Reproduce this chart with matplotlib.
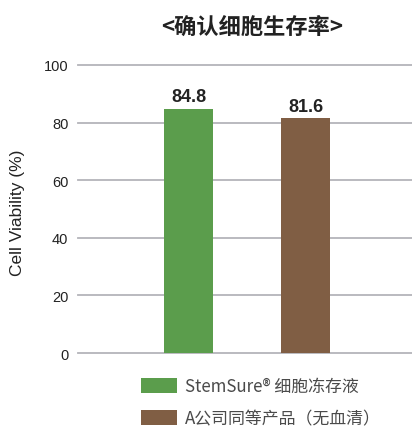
import matplotlib.pyplot as plt

# %% Data
products = ["StemSure® 细胞冻存液", "A公司同等产品（无血清）"]
viability = [84.8, 81.6]
bar_colors = ["#5b9d4c", "#805e44"]
y_ticks = [0, 20, 40, 60, 80, 100]

plt.rcParams['font.family'] = ['Liberation Sans', 'Noto Sans CJK SC', 'DejaVu Sans']

# %% Figure
fig = plt.figure(figsize=(4.12, 4.27), dpi=100)
ax = fig.add_axes([78/412, 1 - 354/427, 334/412, 288/427])

x_pos = list(range(len(products)))
bars = ax.bar(x_pos, viability, width=0.42, color=bar_colors, zorder=3, label=products)

# value labels above the bars
for xp, val in zip(x_pos, viability):
    ax.text(xp, val + 1.2, f"{val:.1f}", ha='center', va='bottom',
            fontsize=13, fontweight='bold', color='#222222')

ax.set_xlim(-0.944, 1.91)
ax.set_ylim(0, 100)
ax.set_yticks(y_ticks)
ax.set_xticks([])
for t in y_ticks:
    ax.axhline(t, color='#b4b4ba', linewidth=1.3, zorder=1, clip_on=False)
for s in ax.spines.values():
    s.set_visible(False)
ax.tick_params(axis='y', length=0, pad=7, labelsize=10.5, labelcolor='#222222')
ax.set_ylabel("Cell Viability (%)", fontsize=12.5, color='#222222', va='center')
ax.yaxis.set_label_coords((18 - 78) / 334, 0.49)

fig.text(252/412, 1 - 27/427, "<确认细胞生存率>", ha='center', va='center',
         fontsize=16, fontweight='bold', color='#222222',
         family=['Noto Sans CJK SC', 'DejaVu Sans'])

fig.legend(handles=list(bars), labels=products, loc='upper left',
           bbox_to_anchor=(141/412, 1 - 378/427), frameon=False,
           handlelength=2.1, handleheight=1.0,
           handletextpad=0.47, labelspacing=0.82, borderpad=0, borderaxespad=0,
           labelcolor='#4a4a4a',
           prop={'family': ['Noto Sans CJK SC', 'DejaVu Sans'], 'size': 12.2})

fig.savefig("out.png", dpi=100)
